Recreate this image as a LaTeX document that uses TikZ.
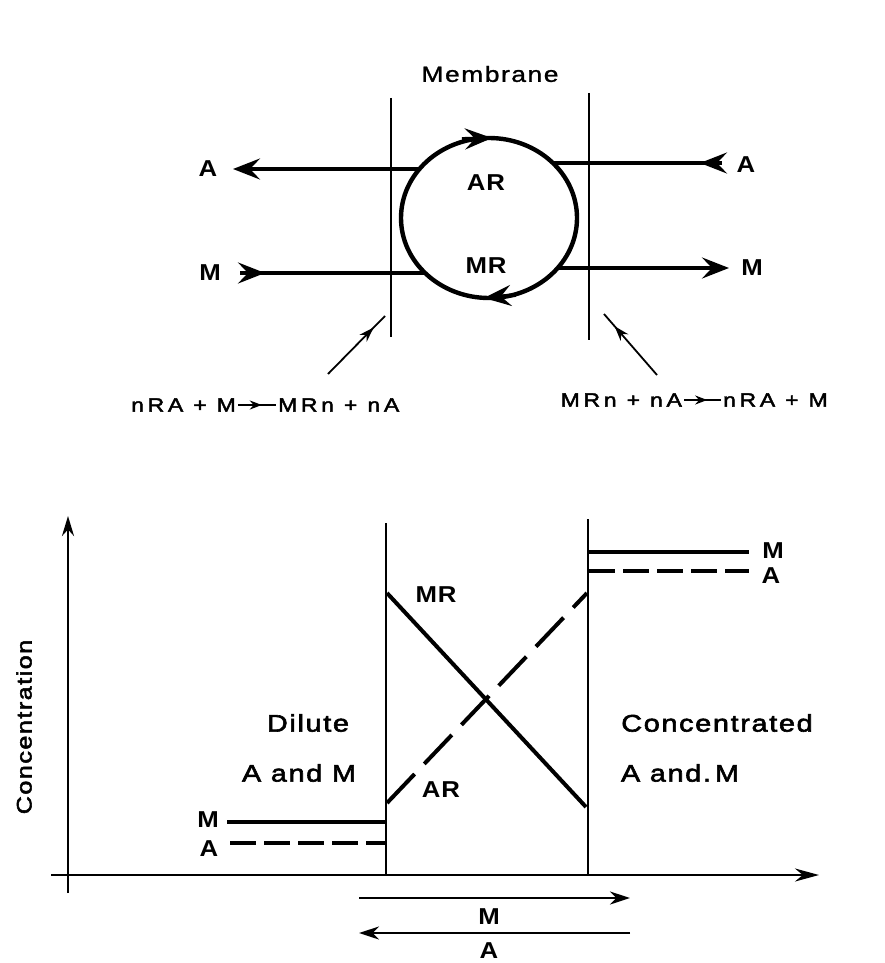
\documentclass[tikz,border=0pt]{standalone}
\usepackage{fontspec}
\setmainfont{Liberation Sans}
\newfontfamily\txtfont[FakeStretch=1.2,LetterSpace=7,FakeBold=2.5]{Liberation Sans}
\newfontfamily\memfont[FakeStretch=1.2,LetterSpace=7,FakeBold=1.2]{Liberation Sans}
\newfontfamily\eqfont[FakeStretch=1.2,LetterSpace=20,FakeBold=2.5]{Liberation Sans}
\newfontfamily\labfont[FakeStretch=1.12,LetterSpace=4]{Liberation Sans}
\usetikzlibrary{arrows.meta,decorations.markings}
\tikzset{
  barb/.tip={Stealth[length=27pt,width=21pt,inset=10pt]},
  memb/.style={line width=1.8pt},
  flow/.style={line width=3.8pt},
  lab/.style={font=\labfont\bfseries\fontsize{23}{26}\selectfont, inner sep=0pt},
  txt/.style={font=\txtfont\fontsize{24}{27}\selectfont, inner sep=0pt},
  eq/.style={font=\eqfont\fontsize{19}{21}\selectfont, inner sep=1pt},
  ptr/.style={line width=1.8pt, postaction={decorate},
    decoration={markings, mark=at position 0.8 with {\arrow{Stealth[length=15pt,width=10pt]}}}},
  eqarrow/.style={line width=2.2pt, shorten <=1pt, shorten >=1pt, postaction={decorate},
    decoration={markings, mark=at position 0.62 with {\arrow{Stealth[length=12pt,width=9pt]}}}},
  axis/.style={line width=2.6pt},
  boxline/.style={line width=2.4pt},
  level/.style={line width=4pt},
  dashlevel/.style={line width=4pt, dash pattern=on 26pt off 8pt},
  ardash/.style={line width=4pt, dash pattern=on 40pt off 14pt},
  flux/.style={line width=2.6pt, -{Stealth[length=20pt,width=13pt]}}
}
\begin{document}
\begin{tikzpicture}[x=1pt,y=-1pt]
\useasboundingbox (0,0) rectangle (885,963);
% ---------- top: carrier scheme ----------
\node[inner sep=0pt, font=\memfont\fontsize{22}{25}\selectfont] (membrane) at (490,74) {Membrane};
\coordinate (mL1) at (391,98);  \coordinate (mL2) at (391,337);
\coordinate (mR1) at (589,93);  \coordinate (mR2) at (589,340);
\draw[memb] (mL1) -- (mL2);
\draw[memb] (mR1) -- (mR2);
\draw[line width=4.4pt] (489,218) ellipse [x radius=88pt, y radius=80pt];
\node[lab] (AR) at (486,183) {AR};
\node[lab] (MR) at (486,266) {MR};
% circulation arrows on the carrier
\draw[flow,-{barb}] (462,139) -- (492,138);
\draw[flow,-{barb}] (516,295) -- (484,298);
% A and M lines
\node[lab] (Al) at (208,169) {A};
\node[lab] (Ml) at (210,273) {M};
\node[lab] (Ar) at (746,165) {A};
\node[lab] (Mr) at (752,268) {M};
\coordinate (ALc) at (420,169); \coordinate (ALe) at (233,169);
\coordinate (MLc) at (425,273); \coordinate (MLe) at (240,273);
\coordinate (ARc) at (553,163); \coordinate (ARe) at (722,163);
\coordinate (MRc) at (558,268); \coordinate (MRe) at (729,268);
\draw[flow,-{barb}] (ALc) -- (ALe);
\draw[flow] (MLe) -- (MLc);
\draw[flow,-{barb}] (MLe) -- (265,273);
\draw[flow] (ARc) -- (ARe);
\draw[flow,-{barb}] (ARe) -- (700,163);
\draw[flow,-{barb}] (MRc) -- (MRe);
% pointers and reactions
\coordinate (pL0) at (328,374); \coordinate (pL1) at (385,316);
\coordinate (pR0) at (657,375); \coordinate (pR1) at (604,314);
\draw[ptr] (pL0) -- (pL1);
\draw[ptr] (pR0) -- (pR1);
\node[eq, anchor=east] (e1a) at (237,405) {nRA + M};
\node[eq, anchor=west] (e1b) at (277,405) {MRn + nA};
\draw[eqarrow] (e1a) -- (e1b);
\node[eq, anchor=east] (e2a) at (683,400) {MRn + nA};
\node[eq, anchor=west] (e2b) at (722,400) {nRA + M};
\draw[eqarrow] (e2a) -- (e2b);
% ---------- bottom: concentration profile ----------
\coordinate (yb) at (68,893); \coordinate (yt) at (68,516);
\coordinate (xl) at (51,875);  \coordinate (xr) at (819,875);
\draw[axis,-{Stealth[length=20pt,width=12pt]}] (yb) -- (yt);
\draw[axis,-{Stealth[length=24pt,width=13pt]}] (xl) -- (xr);
\node[txt, font=\txtfont\fontsize{21}{24}\selectfont, rotate=90] (conc) at (24,727) {Concentration};
\coordinate (bL1) at (386,523); \coordinate (bL2) at (386,875);
\coordinate (bR1) at (588,519); \coordinate (bR2) at (588,875);
\draw[boxline] (bL1) -- (bL2);
\draw[boxline] (bR1) -- (bR2);
\coordinate (mr1) at (387,593); \coordinate (mr2) at (586,807);
\coordinate (ar1) at (387,803); \coordinate (ar2) at (587,593);
\draw[level] (mr1) -- (mr2);
\draw[ardash] (ar1) -- (ar2);
\node[lab] (MRb) at (436,595) {MR};
\node[lab] (ARb) at (441,790) {AR};
\node[txt] (dil1) at (308,723) {Dilute};
\node[txt] (dil2) at (299,773) {A and M};
\node[txt] (con1) at (717,723) {Concentrated};
\node[txt] (con2) at (680,773) {A and.\,M};
% levels outside
\node[lab] (Mlb) at (208,820) {M};
\node[lab] (Alb) at (209,849) {A};
\node[lab] (Mrb) at (773,551) {M};
\node[lab] (Arb) at (771,576) {A};
\coordinate (lm1) at (227,822); \coordinate (lm2) at (385,822);
\coordinate (la1) at (230,843); \coordinate (la2) at (385,843);
\coordinate (rm1) at (589,552); \coordinate (rm2) at (749,552);
\coordinate (ra1) at (589,571); \coordinate (ra2) at (749,571);
\draw[level] (lm1) -- (lm2);
\draw[dashlevel] (la1) -- (la2);
\draw[level] (rm1) -- (rm2);
\draw[dashlevel] (ra1) -- (ra2);
% fluxes
\coordinate (fm1) at (359,898); \coordinate (fm2) at (630,898);
\coordinate (fa1) at (630,933); \coordinate (fa2) at (359,933);
\draw[flux] (fm1) -- (fm2);
\draw[flux] (fa1) -- (fa2);
\node[lab] (Mflux) at (489,917) {M};
\node[lab] (Aflux) at (489,951) {A};
\end{tikzpicture}
\end{document}
